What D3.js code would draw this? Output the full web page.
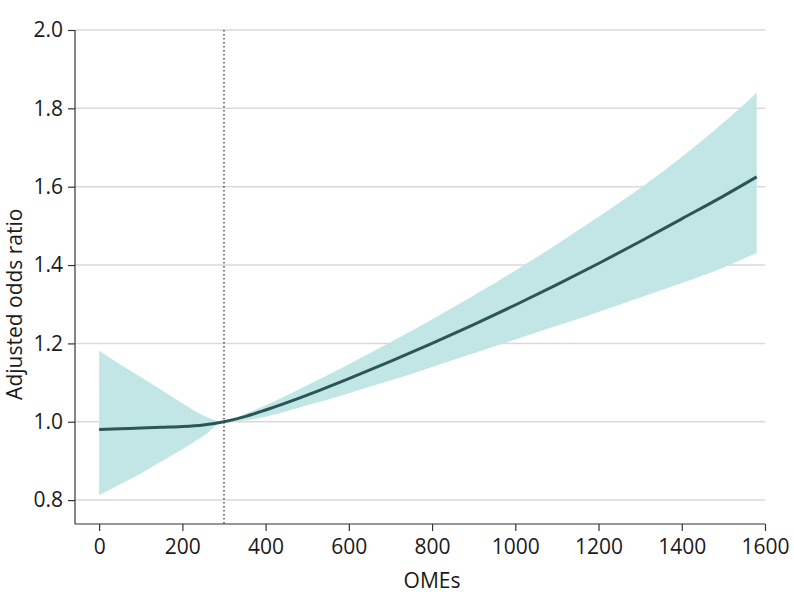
<!DOCTYPE html>
<html>
<head>
<meta charset="utf-8">
<script src="https://cdn.jsdelivr.net/npm/d3@7"></script>
<style>
body { margin: 0; background: #fff; }
svg text { font-family: "Open Sans", "Noto Sans", sans-serif; fill: #1a1a1a; }
</style>
</head>
<body>
<svg id="chart" width="794" height="609"></svg>
<script>
const omes      = [0, 50, 100, 150, 200, 250, 300, 350, 400, 500, 600, 700, 800, 900, 1000, 1100, 1200, 1300, 1400, 1500, 1580];
const oddsRatio = [0.980, 0.982, 0.984, 0.986, 0.988, 0.992, 1.000, 1.013, 1.030, 1.068, 1.110, 1.154, 1.200, 1.248, 1.298, 1.350, 1.404, 1.460, 1.518, 1.576, 1.625];
const upperCI   = [1.181, 1.147, 1.114, 1.081, 1.047, 1.016, 1.000, 1.020, 1.042, 1.093, 1.147, 1.203, 1.261, 1.322, 1.386, 1.453, 1.523, 1.596, 1.676, 1.763, 1.840];
const lowerCI   = [0.813, 0.840, 0.868, 0.899, 0.930, 0.963, 1.000, 1.003, 1.013, 1.042, 1.073, 1.105, 1.140, 1.175, 1.210, 1.245, 1.280, 1.317, 1.354, 1.394, 1.431];
const xTicks = [0, 200, 400, 600, 800, 1000, 1200, 1400, 1600];
const yTicks = [0.8, 1.0, 1.2, 1.4, 1.6, 1.8, 2.0];
const referenceOME = 300;

(function () {
const svg = d3.select("#chart");
const mLeft = 75, mRight = 765, mTop = 30, mBottom = 524;

const x = d3.scaleLinear().domain([-58, 1600]).range([mLeft, mRight]);
const y = d3.scaleLinear().domain([0.739, 2.0]).range([mBottom, mTop]);

const data = omes.map((d, i) => ({ x: d, y: oddsRatio[i], lo: lowerCI[i], hi: upperCI[i] }));

svg.append("g").selectAll("line").data(yTicks).join("line")
  .attr("x1", mLeft).attr("x2", mRight)
  .attr("y1", d => y(d)).attr("y2", d => y(d))
  .attr("stroke", "#d9d9d9").attr("stroke-width", 1.5);

svg.append("path").datum(data)
  .attr("fill", "#c1e6e5")
  .attr("d", d3.area().x(d => x(d.x)).y0(d => y(d.lo)).y1(d => y(d.hi)).curve(d3.curveMonotoneX));

svg.append("line")
  .attr("x1", x(referenceOME)).attr("x2", x(referenceOME))
  .attr("y1", mTop).attr("y2", mBottom)
  .attr("stroke", "#222").attr("stroke-width", 1.2).attr("stroke-dasharray", "1.5,2.5");

svg.append("path").datum(data)
  .attr("fill", "none").attr("stroke", "#2b5656").attr("stroke-width", 3)
  .attr("d", d3.line().x(d => x(d.x)).y(d => y(d.y)).curve(d3.curveMonotoneX));

const xAxis = svg.append("g").attr("transform", `translate(0,${mBottom})`)
  .call(d3.axisBottom(x).tickValues(xTicks).tickSize(7).tickSizeOuter(0).tickPadding(8).tickFormat(d3.format("d")));
const yAxis = svg.append("g").attr("transform", `translate(${mLeft},0)`)
  .call(d3.axisLeft(y).tickValues(yTicks).tickSize(7).tickSizeOuter(0).tickPadding(5).tickFormat(d3.format(".1f")));

[xAxis, yAxis].forEach(g => {
  g.select(".domain").attr("stroke", "#333").attr("stroke-width", 1.2);
  g.selectAll(".tick line").attr("stroke", "#333").attr("stroke-width", 1.2);
  g.selectAll(".tick text").attr("font-size", 21).attr("fill", "#1a1a1a").attr("font-family", "Open Sans");
});
xAxis.select(".domain").attr("d", `M${mLeft},0H${mRight}`);
yAxis.select(".domain").attr("d", `M0,${mTop}V${mBottom}`);

svg.append("text").attr("x", x(800)).attr("y", 588).attr("text-anchor", "middle")
  .attr("font-size", 21).text("OMEs");
svg.append("text").attr("transform", `translate(22,${y(1.3)}) rotate(-90)`).attr("text-anchor", "middle")
  .attr("font-size", 21).text("Adjusted odds ratio");
})();
</script>
</body>
</html>
